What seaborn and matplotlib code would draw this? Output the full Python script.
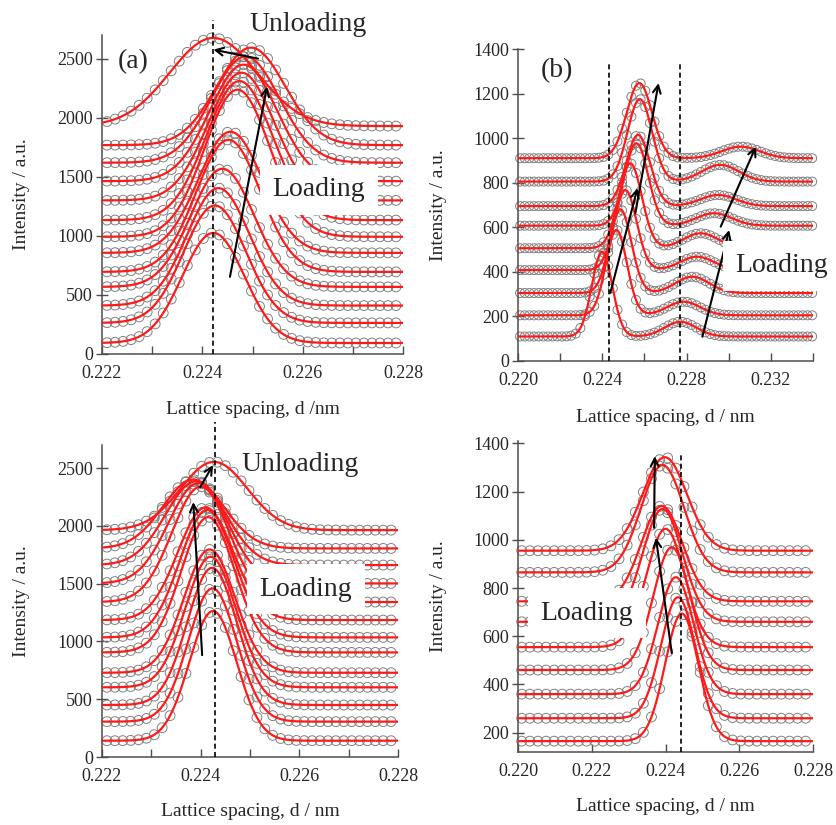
import numpy as np
import pandas as pd
import matplotlib
matplotlib.use("Agg")
import matplotlib.pyplot as plt
import seaborn as sns
from matplotlib.ticker import MultipleLocator, FormatStrFormatter

# ---------------- peak data (d in nm, intensity in a.u.) ----------------
# (a) single peak, loading sequence + final unloading profile (last entry)
a_base = [93, 263, 410, 568, 695, 856, 992, 1133, 1300, 1463, 1619, 1768, 1929]
a_peak = [1025, 1257, 1404, 1568, 1813, 1881, 2237, 2310, 2381, 2449, 2517, 2593, 2675]
a_center = [0.22422, 0.22425, 0.22432, 0.22440, 0.22452, 0.22456, 0.22470,
            0.22474, 0.22478, 0.22482, 0.22486, 0.22497, 0.22422]
a_sigma = [0.00062, 0.00062, 0.00062, 0.00063, 0.00064, 0.00064, 0.00065,
           0.00066, 0.00066, 0.00067, 0.00068, 0.00068, 0.00087]

# (b) main peak + satellite peak, loading sequence
b_base = [110, 205, 305, 408, 506, 607, 695, 805, 910]
b_peak1 = [490, 588, 680, 767, 887, 977, 1014, 1175, 1247]
b_center1 = [0.22399, 0.22467, 0.22486, 0.22510, 0.22533, 0.22562, 0.22570, 0.22578, 0.22576]
b_sigma1 = [0.00048, 0.00050, 0.00052, 0.00053, 0.00055, 0.00056, 0.00057, 0.00058, 0.00060]
b_peak2 = [176, 266, 378, 468, 573, 663, 745, 880, 962]
b_center2 = [0.22771, 0.22786, 0.22827, 0.22850, 0.22867, 0.22930, 0.22950, 0.22960, 0.23057]
b_sigma2 = [0.00075, 0.00078, 0.00080, 0.00080, 0.00082, 0.00085, 0.00085, 0.00088, 0.00090]

# (c) single peak, loading sequence + unloading profile (last entry)
c_base = [141, 306, 450, 603, 729, 905, 1035, 1185, 1341, 1502, 1661, 1805, 1963]
c_peak = [1263, 1459, 1637, 1733, 1796, 2076, 2137, 2160, 2340, 2370, 2385, 2400, 2554]
c_center = [0.22425, 0.22424, 0.22423, 0.22420, 0.22418, 0.22415, 0.22413,
            0.22410, 0.22400, 0.22395, 0.22390, 0.22385, 0.22427]
c_sigma = [0.00048, 0.00049, 0.00050, 0.00051, 0.00052, 0.00054, 0.00055,
           0.00056, 0.00058, 0.00060, 0.00061, 0.00062, 0.00068]

# (d) single peak, loading sequence
d_base = [165, 260, 360, 460, 555, 660, 745, 865, 955]
d_peak = [694, 762, 845, 969, 1046, 1128, 1141, 1310, 1343]
d_center = [0.22444, 0.22434, 0.22428, 0.22417, 0.22400, 0.22392, 0.22390, 0.22392, 0.22398]
d_sigma = [0.00045, 0.00046, 0.00048, 0.00050, 0.00052, 0.00054, 0.00056, 0.00058, 0.00060]

# reference lattice spacings (dashed lines)
a_ref = [0.22421]
b_ref = [0.22433, 0.22771]
c_ref = [0.22429]
d_ref = [0.22442]

# ---------------- styling ----------------
sns.set_style("ticks")
plt.rcParams["font.family"] = ["Liberation Serif", "DejaVu Serif"]

RED = "#ff1a1a"
CIRC = "0.5"
FS_TICK = 13
FS_LAB = 14
FS_BIG = 20


def gauss(x, c, s):
    return np.exp(-0.5 * ((x - c) / s) ** 2)


def profiles(x_line, x_pts, base, peaks):
    """Long-form tables of fitted curves and sampled points.
    peaks: list of (peak_heights, centers, sigmas) tuples."""
    lines, pts = [], []
    for i, b in enumerate(base):
        yl = np.full_like(x_line, b, dtype=float)
        yp = np.full_like(x_pts, b, dtype=float)
        for heights, centers, sigmas in peaks:
            amp = heights[i] - b
            yl += amp * gauss(x_line, centers[i], sigmas[i])
            yp += amp * gauss(x_pts, centers[i], sigmas[i])
        lines.append(pd.DataFrame({"d": x_line, "I": yl, "curve": i}))
        pts.append(pd.DataFrame({"d": x_pts, "I": yp, "curve": i}))
    return pd.concat(lines), pd.concat(pts)


def style_axis(ax, xlim, ylim, xmajor, xminor, ymajor, xfmt, xlabel):
    ax.set_xlim(*xlim)
    ax.set_ylim(*ylim)
    ax.xaxis.set_major_locator(MultipleLocator(xmajor))
    ax.xaxis.set_minor_locator(MultipleLocator(xminor))
    ax.xaxis.set_major_formatter(FormatStrFormatter(xfmt))
    ax.yaxis.set_major_locator(MultipleLocator(ymajor))
    for s in ("top", "right"):
        ax.spines[s].set_visible(False)
    for s in ("left", "bottom"):
        ax.spines[s].set_linewidth(1.1)
        ax.spines[s].set_color("0.3")
    ax.tick_params(axis="x", which="both", direction="in", length=6, width=1.0,
                   color="0.3", labelsize=FS_TICK, pad=8)
    ax.tick_params(axis="y", which="major", direction="inout", length=9, width=1.0,
                   color="0.3", labelsize=FS_TICK, pad=2)
    ax.set_ylabel("Intensity / a.u.", fontsize=FS_LAB)
    ax.set_xlabel(xlabel, fontsize=FS_LAB)


def draw_panel(ax, line_df, pts_df, ms):
    sns.scatterplot(data=pts_df, x="d", y="I", ax=ax, marker="o", s=ms,
                    facecolor="none", edgecolor=CIRC, linewidth=0.7,
                    legend=False, zorder=2, clip_on=False)
    sns.lineplot(data=line_df, x="d", y="I", units="curve", estimator=None,
                 color=RED, lw=1.6, ax=ax, legend=False, zorder=3, sort=False)


def arrow(ax, tail, head):
    ax.annotate("", xy=head, xytext=tail,
                arrowprops=dict(arrowstyle="->", color="black", lw=1.5,
                                mutation_scale=14, shrinkA=0, shrinkB=0),
                zorder=6, annotation_clip=False)


def vline(ax, x, y0, y1):
    ax.plot([x, x], [y0, y1], ls=(0, (3, 2)), color="black", lw=1.2,
            zorder=5, clip_on=False)


def boxed(ax, x, y, s):
    ax.text(x, y, s, fontsize=FS_BIG, ha="center", va="center", zorder=10,
            clip_on=False,
            bbox=dict(boxstyle="square,pad=0.45", fc="white", ec="none"))


fig = plt.figure(figsize=(8.36, 8.25), dpi=100)
W, H = 836.0, 825.0


def add_ax(l, r, b, t):
    return fig.add_axes([l / W, 1 - b / H, (r - l) / W, (b - t) / H])


ax_a = add_ax(102, 403, 354, 35)
ax_b = add_ax(518, 813, 361, 49)
ax_c = add_ax(102, 398, 757, 445)
ax_d = add_ax(518, 813, 752, 441)

# ---------------- (a) ----------------
xl = np.linspace(0.222, 0.228, 600)
xp = np.arange(0.2221, 0.22801, 0.00016)
la, pa = profiles(xl, xp, a_base, [(a_peak, a_center, a_sigma)])
draw_panel(ax_a, la, pa, 50)
style_axis(ax_a, (0.222, 0.228), (0, 2700), 0.002, 0.001, 500, "%.3f",
           "Lattice spacing, d /nm")
for x in a_ref:
    vline(ax_a, x, 0, 2830)
arrow(ax_a, (0.22455, 653), (0.22529, 2263))
arrow(ax_a, (0.22511, 2500), (0.22422, 2576))
ax_a.text(0.22262, 2475, "(a)", fontsize=FS_BIG, ha="center", va="center")
ax_a.text(0.2261, 2790, "Unloading", fontsize=FS_BIG, ha="center", va="center",
          clip_on=False)
boxed(ax_a, 0.22632, 1390, "Loading")

# ---------------- (b) ----------------
xl = np.linspace(0.220, 0.234, 900)
xp = np.arange(0.2201, 0.23401, 0.00022)
lb, pb = profiles(xl, xp, b_base, [(b_peak1, b_center1, b_sigma1),
                                   (b_peak2, b_center2, b_sigma2)])
draw_panel(ax_b, lb, pb, 42)
style_axis(ax_b, (0.220, 0.234), (0, 1400), 0.004, 0.002, 200, "%.3f",
           "Lattice spacing, d / nm")
for x in b_ref:
    vline(ax_b, x, 0, 1341)
arrow(ax_b, (0.22438, 305), (0.22567, 776))
arrow(ax_b, (0.22557, 664), (0.22667, 1247))
arrow(ax_b, (0.22875, 109), (0.23002, 588))
arrow(ax_b, (0.22962, 603), (0.23129, 962))
ax_b.text(0.22186, 1305, "(b)", fontsize=FS_BIG, ha="center", va="center")
boxed(ax_b, 0.23252, 428, "Loading")

# ---------------- (c) ----------------
xl = np.linspace(0.222, 0.228, 600)
xp = np.arange(0.2221, 0.22801, 0.00016)
lc, pc = profiles(xl, xp, c_base, [(c_peak, c_center, c_sigma)])
draw_panel(ax_c, lc, pc, 50)
style_axis(ax_c, (0.222, 0.228), (0, 2700), 0.002, 0.001, 500, "%.3f",
           "Lattice spacing, d / nm")
for x in c_ref:
    vline(ax_c, x, 0, 2898)
arrow(ax_c, (0.22403, 882), (0.22385, 2206))
arrow(ax_c, (0.22399, 2336), (0.22425, 2526))
ax_c.text(0.22602, 2530, "Unloading", fontsize=FS_BIG, ha="center", va="center")
boxed(ax_c, 0.22613, 1450, "Loading")

# ---------------- (d) ----------------
xl = np.linspace(0.220, 0.228, 700)
xp = np.arange(0.2201, 0.22801, 0.00022)
ld, pdd = profiles(xl, xp, d_base, [(d_peak, d_center, d_sigma)])
draw_panel(ax_d, ld, pdd, 50)
style_axis(ax_d, (0.220, 0.228), (120, 1410), 0.002, 0.002, 200, "%.3f",
           "Lattice spacing, d / nm")
for x in d_ref:
    vline(ax_d, x, 120, 1359)
arrow(ax_d, (0.22417, 530), (0.22374, 1009))
arrow(ax_d, (0.22369, 1050), (0.22371, 1347))
boxed(ax_d, 0.22187, 695, "Loading")

# label placement (axes fractions)
for ax, yl_x, xl_y in ((ax_a, -0.239, -0.147), (ax_b, -0.24, -0.154),
                       (ax_c, -0.243, -0.147), (ax_d, -0.24, -0.147)):
    ax.yaxis.set_label_coords(yl_x, 0.5)
    ax.xaxis.set_label_coords(0.5, xl_y)

fig.savefig("out.png", dpi=100)
